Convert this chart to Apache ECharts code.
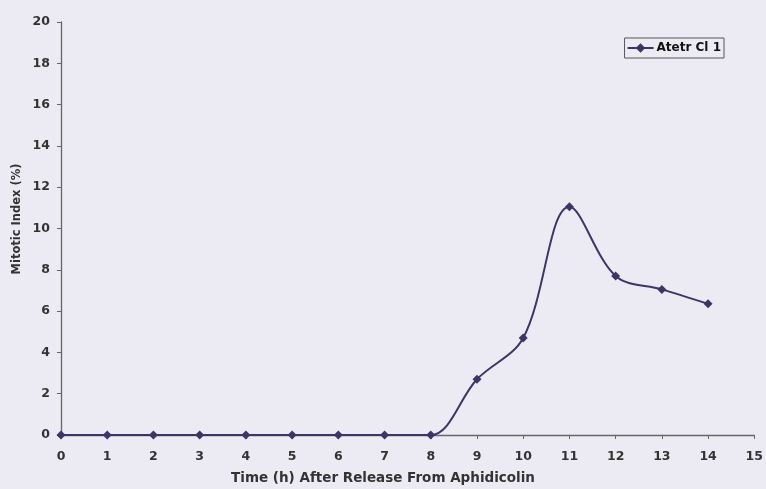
<!DOCTYPE html>
<html><head><meta charset="utf-8">
<script src="https://cdn.jsdelivr.net/npm/echarts@6/dist/echarts.min.js"></script>
<style>html,body{margin:0;padding:0;background:#ecebf3;}#c{width:766px;height:489px;}</style>
</head><body><div id="c"></div>
<script>
const hours = [0,1,2,3,4,5,6,7,8,9,10,11,12,13,14];
const mitoticIndex = [0,0,0,0,0,0,0,0,0,2.7,4.7,11.05,7.7,7.05,6.35];
const seriesName = 'Atetr Cl 1';
const xTitle = 'Time (h) After Release From Aphidicolin';
const yTitle = 'Mitotic Index (%)';

const FONT = 'DejaVu Sans, Liberation Sans, Arial';
const chart = echarts.init(document.getElementById('c'), null, {renderer:'canvas'});
const lbl = {color:'#333', fontFamily:FONT, fontWeight:'bold', fontSize:12.5};
chart.setOption({
  backgroundColor:'#ecebf3',
  animation:false,
  grid:{left:61, right:11, top:22, bottom:54},
  legend:{
    data:[seriesName],
    right:42, top:38, orient:'horizontal',
    itemWidth:26, itemHeight:12, itemGap:4,
    borderColor:'#555', borderWidth:1, padding:[4,3,4,2],
    textStyle:{color:'#111', fontFamily:FONT, fontSize:12, fontWeight:'bold', padding:[0,0,0,-2]}
  },
  graphic:[
    {type:'text', left:'center', x:0, top:471,
     style:{text:xTitle, fill:'#333', font:'bold 13.5px ' + FONT}},
    {type:'text', x:17, y:219, rotation:Math.PI/2,
     style:{text:yTitle, fill:'#333', font:'bold 11.5px ' + FONT, align:'center', verticalAlign:'middle'}}
  ],
  xAxis:{
    type:'value', min:0, max:15, interval:1,
    axisLine:{lineStyle:{color:'#666', width:1.3}},
    axisTick:{show:true, length:4, lineStyle:{color:'#666'}},
    axisLabel:Object.assign({margin:15}, lbl),
    splitLine:{show:false}
  },
  yAxis:{
    type:'value', min:0, max:20, interval:2,
    axisLine:{show:true, lineStyle:{color:'#666', width:1.3}},
    axisTick:{show:true, length:4, lineStyle:{color:'#666'}},
    axisLabel:Object.assign({margin:11}, lbl),
    splitLine:{show:false}
  },
  series:[{
    name:seriesName, type:'line', smooth:0.35,
    data:hours.map((h,i)=>[h, mitoticIndex[i]]),
    symbol:'diamond', symbolSize:9,
    lineStyle:{color:'#3d3566', width:2},
    itemStyle:{color:'#3d3566'}
  }]
});
</script></body></html>
